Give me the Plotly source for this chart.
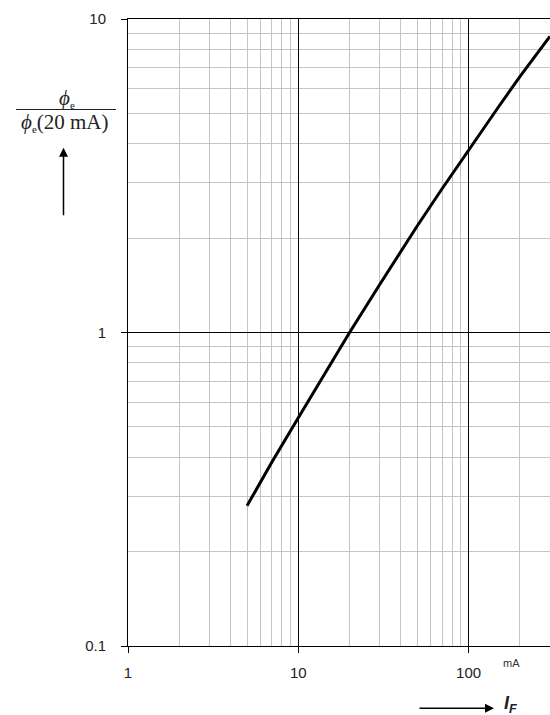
import plotly.graph_objects as go
import math

# Data (forward current in mA vs relative radiant flux)
i_f_ma = [5, 7, 10, 15, 20, 30, 50, 70, 100, 150, 200, 300]
rel_flux = [0.28, 0.386, 0.535, 0.774, 1.0, 1.42, 2.19, 2.88, 3.83, 5.25, 6.55, 8.8]

x_tick_vals = [1, 10, 100]
x_tick_text = ["1", "10", "100"]
y_tick_vals = [0.1, 1, 10]
y_tick_text = ["0.1", "1", "10"]
x_minor_vals = [2, 3, 4, 5, 6, 7, 8, 9, 20, 30, 40, 50, 60, 70, 80, 90, 200, 300]
y_minor_vals = [0.2, 0.3, 0.4, 0.5, 0.6, 0.7, 0.8, 0.9, 2, 3, 4, 5, 6, 7, 8, 9]

W, H = 550, 715
ML, MR, MT, MB = 128, 0, 19, 69
PW, PH = W - ML - MR, H - MT - MB


def px(x):
    return (x - ML) / PW


def py(y):
    return (H - MB - y) / PH


fig = go.Figure()
fig.add_trace(go.Scatter(
    x=i_f_ma, y=rel_flux, mode="lines",
    line=dict(color="black", width=3),
    hoverinfo="skip", showlegend=False,
))

tick_font = dict(family="Liberation Sans, Arial, sans-serif", size=15, color="#222222")
minor_grid = "#c4c4c4"

fig.update_xaxes(
    type="log", range=[0, math.log10(300.5)],
    tickvals=x_tick_vals, ticktext=x_tick_text,
    ticks="outside", ticklen=6, tickcolor="black", tickwidth=1,
    showline=True, linecolor="black", linewidth=1, mirror=True,
    showgrid=True, gridcolor="black", gridwidth=1,
    minor=dict(tickvals=x_minor_vals, showgrid=True, gridcolor=minor_grid, gridwidth=1, ticks=""),
    zeroline=False, tickfont=tick_font, ticklabelstandoff=7,
)
fig.update_yaxes(
    type="log", range=[-1, 1],
    tickvals=y_tick_vals, ticktext=y_tick_text,
    ticks="outside", ticklen=6, tickcolor="black", tickwidth=1,
    showline=True, linecolor="black", linewidth=1, mirror=False,
    showgrid=True, gridcolor="black", gridwidth=1,
    minor=dict(tickvals=y_minor_vals, showgrid=True, gridcolor=minor_grid, gridwidth=1, ticks=""),
    zeroline=False, tickfont=tick_font, ticklabelstandoff=12,
)

serif = dict(family="Liberation Serif, Times New Roman, serif", size=21, color="#222222")
sub_e = "<sub><span style='font-size:11px'>e</span></sub>"

annotations = [
    dict(text="<i>ϕ</i>" + sub_e, x=px(67), y=py(99), xref="paper", yref="paper",
         xanchor="center", yanchor="middle", showarrow=False, font=serif),
    dict(text="<i>ϕ</i>" + sub_e + "(20 mA)", x=px(65), y=py(122), xref="paper", yref="paper",
         xanchor="center", yanchor="middle", showarrow=False, font=serif),
    dict(text="", x=px(63.5), y=py(147.7), xref="paper", yref="paper",
         ax=0, ay=69, showarrow=True, arrowhead=2, arrowsize=1.2, arrowwidth=1.5,
         arrowcolor="black"),
    dict(text="", x=px(494), y=py(708.3), xref="paper", yref="paper",
         ax=-76, ay=0, showarrow=True, arrowhead=2, arrowsize=1.2, arrowwidth=1.5,
         arrowcolor="black"),
    dict(text="<b><i>I</i></b><sub><b><i>F</i></b></sub>", x=px(502), y=py(704),
         xref="paper", yref="paper", xanchor="left", yanchor="middle", showarrow=False,
         font=dict(family="Liberation Sans, Arial, sans-serif", size=18, color="#222222")),
    dict(text="mA", x=px(511), y=py(663), xref="paper", yref="paper",
         xanchor="center", yanchor="middle", showarrow=False,
         font=dict(family="Liberation Sans, Arial, sans-serif", size=11, color="#333333")),
]

shapes = [
    dict(type="line", xref="paper", yref="paper", x0=px(16), x1=px(116),
         y0=py(109.5), y1=py(109.5), line=dict(color="#222222", width=1.2)),
]

fig.update_layout(
    width=W, height=H,
    margin=dict(l=ML, r=MR, t=MT, b=MB, pad=0),
    paper_bgcolor="white", plot_bgcolor="white",
    annotations=annotations, shapes=shapes,
    showlegend=False,
)

fig.write_html("out.html", config={"displayModeBar": False},
               post_script="document.body.style.margin='0';document.body.style.overflow='hidden';")
